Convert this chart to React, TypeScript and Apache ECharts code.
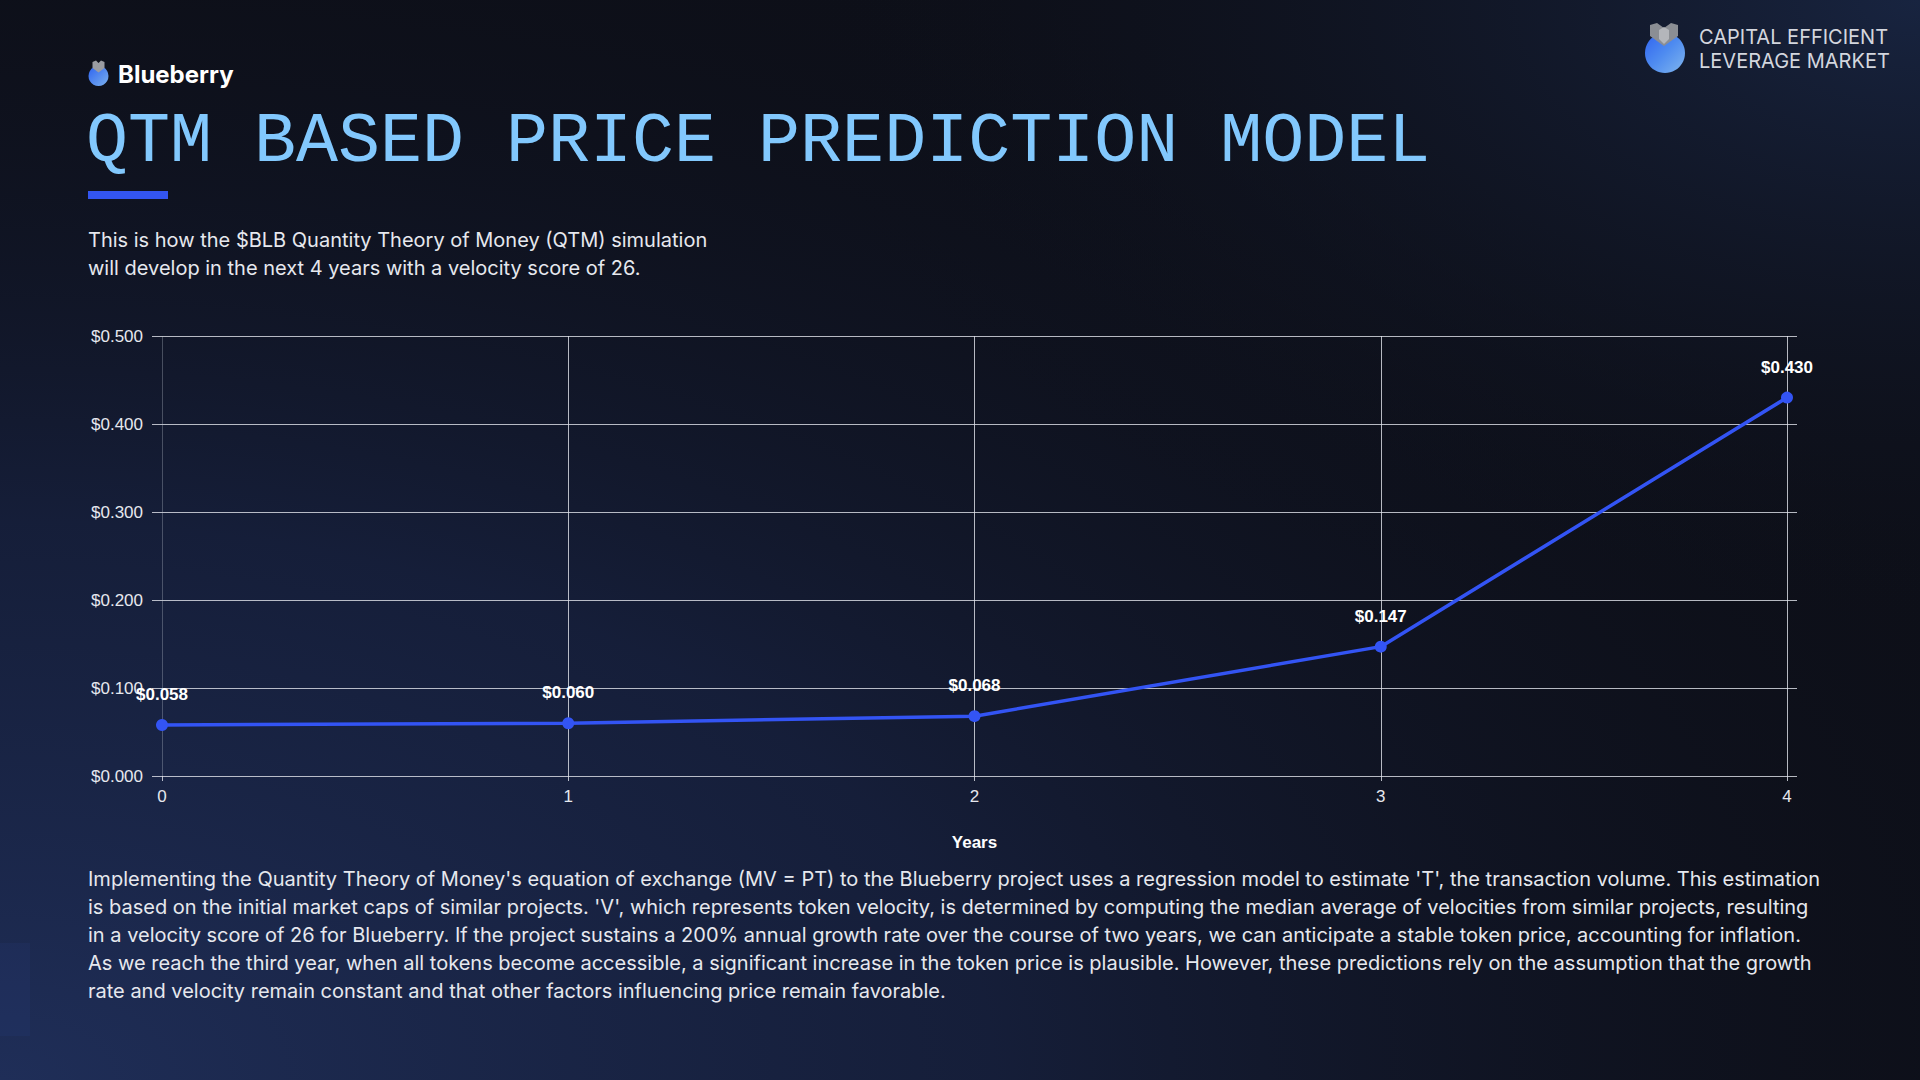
import React, { useEffect, useRef } from "react";
import * as echarts from "echarts";

const years = ["0", "1", "2", "3", "4"];
const prices = [0.058, 0.06, 0.068, 0.147, 0.43];
const yMin = 0;
const yMax = 0.5;
const yStep = 0.1;

const titleText = "QTM BASED PRICE PREDICTION MODEL";
const brandText = "Blueberry";
const taglineLines = ["CAPITAL EFFICIENT", "LEVERAGE MARKET"];
const subtitleLines = [
  "This is how the $BLB Quantity Theory of Money (QTM) simulation",
  "will develop in the next 4 years with a velocity score of 26.",
];
const paragraphLines = [
  "Implementing the Quantity Theory of Money's equation of exchange (MV = PT) to the Blueberry project uses a regression model to estimate 'T', the transaction volume. This estimation",
  "is based on the initial market caps of similar projects. 'V', which represents token velocity, is determined by computing the median average of velocities from similar projects, resulting",
  "in a velocity score of 26 for Blueberry. If the project sustains a 200% annual growth rate over the course of two years, we can anticipate a stable token price, accounting for inflation.",
  "As we reach the third year, when all tokens become accessible, a significant increase in the token price is plausible. However, these predictions rely on the assumption that the growth",
  "rate and velocity remain constant and that other factors influencing price remain favorable.",
];

const GRID = "rgba(225,228,235,0.8)";
const GRID_DIM = "rgba(200,205,215,0.3)";
const LINE_BLUE = "#3354f4";
const SANS = "'Liberation Sans', Arial, sans-serif";
const INTER = "Inter, 'Noto Sans', sans-serif";

export default function App() {
  const ref = useRef<HTMLDivElement>(null);

  useEffect(() => {
    document.body.style.margin = "0";
    const chart = echarts.init(ref.current!, null, { renderer: "svg" });

    const textEls: any[] = [];
    subtitleLines.forEach((t, i) => {
      textEls.push({
        type: "text",
        x: 88,
        y: 240 + i * 28,
        style: { text: t, fill: "#e6e8ee", font: `400 20px ${INTER}`, verticalAlign: "middle" },
      });
    });
    paragraphLines.forEach((t, i) => {
      textEls.push({
        type: "text",
        x: 88,
        y: 879 + i * 28,
        style: { text: t, fill: "#e6e8ee", font: `400 20px ${INTER}`, verticalAlign: "middle" },
      });
    });
    taglineLines.forEach((t, i) => {
      textEls.push({
        type: "text",
        x: 1699,
        y: 37 + i * 24,
        style: { text: t, fill: "#d3d6de", font: `400 20px ${INTER}`, verticalAlign: "middle" },
      });
    });

    const option: any = {
      animation: false,
      backgroundColor: "#0d0f18",
      graphic: [
        {
          type: "rect",
          z: -10,
          silent: true,
          shape: { x: 0, y: 0, width: 1920, height: 1080 },
          style: {
            fill: new echarts.graphic.RadialGradient(0, 1, 1.15, [
              { offset: 0, color: "rgba(31,46,88,1)" },
              { offset: 0.45, color: "rgba(24,35,68,0.75)" },
              { offset: 1, color: "rgba(13,15,24,0)" },
            ]),
          },
        },
        {
          type: "rect",
          z: -9,
          silent: true,
          shape: { x: 0, y: 0, width: 1920, height: 1080 },
          style: {
            fill: new echarts.graphic.RadialGradient(1, 0, 0.6, [
              { offset: 0, color: "rgba(24,36,64,1)" },
              { offset: 1, color: "rgba(13,15,24,0)" },
            ]),
          },
        },
        {
          type: "rect",
          z: -8,
          silent: true,
          shape: { x: 0, y: 943, width: 30, height: 93 },
          style: { fill: "rgba(50,75,170,0.1)" },
        },
        // small logo
        {
          type: "circle",
          shape: { cx: 98.5, cy: 76, r: 10 },
          style: {
            fill: new echarts.graphic.LinearGradient(0, 0, 1, 1, [
              { offset: 0, color: "#2d63f0" },
              { offset: 1, color: "#7ab0ee" },
            ]),
          },
        },
        {
          type: "polygon",
          shape: { points: [[92.5, 62], [96, 60.5], [98.5, 63], [101, 60.5], [104.5, 62], [104.5, 68], [98.5, 72.5], [92.5, 68]] },
          style: { fill: "#9a9ca2" },
        },
        {
          type: "text",
          x: 118,
          y: 74,
          style: { text: brandText, fill: "#ffffff", font: `700 24px ${INTER}`, verticalAlign: "middle" },
        },
        // title
        {
          type: "text",
          x: 86,
          y: 142,
          style: { text: titleText, fill: "#82c8fd", font: `400 70px 'Liberation Mono', 'DejaVu Sans Mono', monospace`, verticalAlign: "middle" },
        },
        {
          type: "rect",
          shape: { x: 88, y: 191, width: 80, height: 8 },
          style: { fill: "#3355f0" },
        },
        // top right logo
        {
          type: "circle",
          shape: { cx: 1665, cy: 53, r: 20 },
          style: {
            fill: new echarts.graphic.LinearGradient(0, 0, 1, 1, [
              { offset: 0, color: "#2f63f0" },
              { offset: 0.5, color: "#4f8cf0" },
              { offset: 1, color: "#80b6ee" },
            ]),
          },
        },
        {
          type: "polygon",
          shape: { points: [[1650, 25], [1657, 23], [1664, 28], [1671, 23], [1678, 25], [1678, 36], [1664, 46], [1650, 36]] },
          style: { fill: "#8b8e94" },
        },
        {
          type: "polygon",
          shape: { points: [[1659, 30], [1664, 27], [1669, 30], [1669, 39], [1664, 44], [1659, 39]] },
          style: { fill: "#b4b6bb" },
        },
        ...textEls,
      ],
      grid: { left: 162, right: 133, top: 336, bottom: 304, containLabel: false },
      xAxis: {
        type: "category",
        data: years,
        boundaryGap: false,
        axisLine: { show: false },
        axisTick: { show: true, length: 5, lineStyle: { color: GRID } },
        axisLabel: { color: "#e6e8ee", fontSize: 17, fontFamily: SANS, margin: 12 },
        splitLine: {
          show: true,
          lineStyle: { color: [GRID_DIM, GRID, GRID, GRID, GRID], width: 1 },
        },
        name: "Years",
        nameLocation: "middle",
        nameGap: 58,
        nameTextStyle: { color: "#ffffff", fontSize: 17, fontWeight: "bold", fontFamily: SANS },
      },
      yAxis: [
        {
          type: "value",
          min: yMin,
          max: yMax,
          interval: yStep,
          axisLine: { show: false },
          axisTick: { show: true, length: 10, lineStyle: { color: GRID } },
          axisLabel: {
            color: "#e6e8ee",
            fontSize: 17,
            fontFamily: SANS,
            margin: 19,
            formatter: (v: number) => "$" + v.toFixed(3),
          },
          splitLine: { show: true, lineStyle: { color: GRID, width: 1 } },
        },
        {
          type: "value",
          position: "right",
          min: yMin,
          max: yMax,
          interval: yStep,
          axisLine: { show: false },
          axisTick: { show: true, length: 10, lineStyle: { color: GRID } },
          axisLabel: { show: false },
          splitLine: { show: false },
        },
      ],
      series: [
        {
          type: "line",
          data: prices,
          yAxisIndex: 0,
          symbol: "circle",
          symbolSize: 12,
          lineStyle: { color: LINE_BLUE, width: 3.5 },
          itemStyle: { color: LINE_BLUE },
          label: {
            show: true,
            position: "top",
            distance: 16,
            color: "#ffffff",
            fontSize: 17,
            fontWeight: "bold",
            fontFamily: SANS,
            formatter: (p: any) => "$" + Number(p.value).toFixed(3),
          },
          z: 5,
        },
      ],
    };

    chart.setOption(option);
    return () => chart.dispose();
  }, []);

  return (
    <div
      ref={ref}
      style={{ position: "fixed", left: 0, top: 0, width: "1920px", height: "1080px" }}
    />
  );
}
